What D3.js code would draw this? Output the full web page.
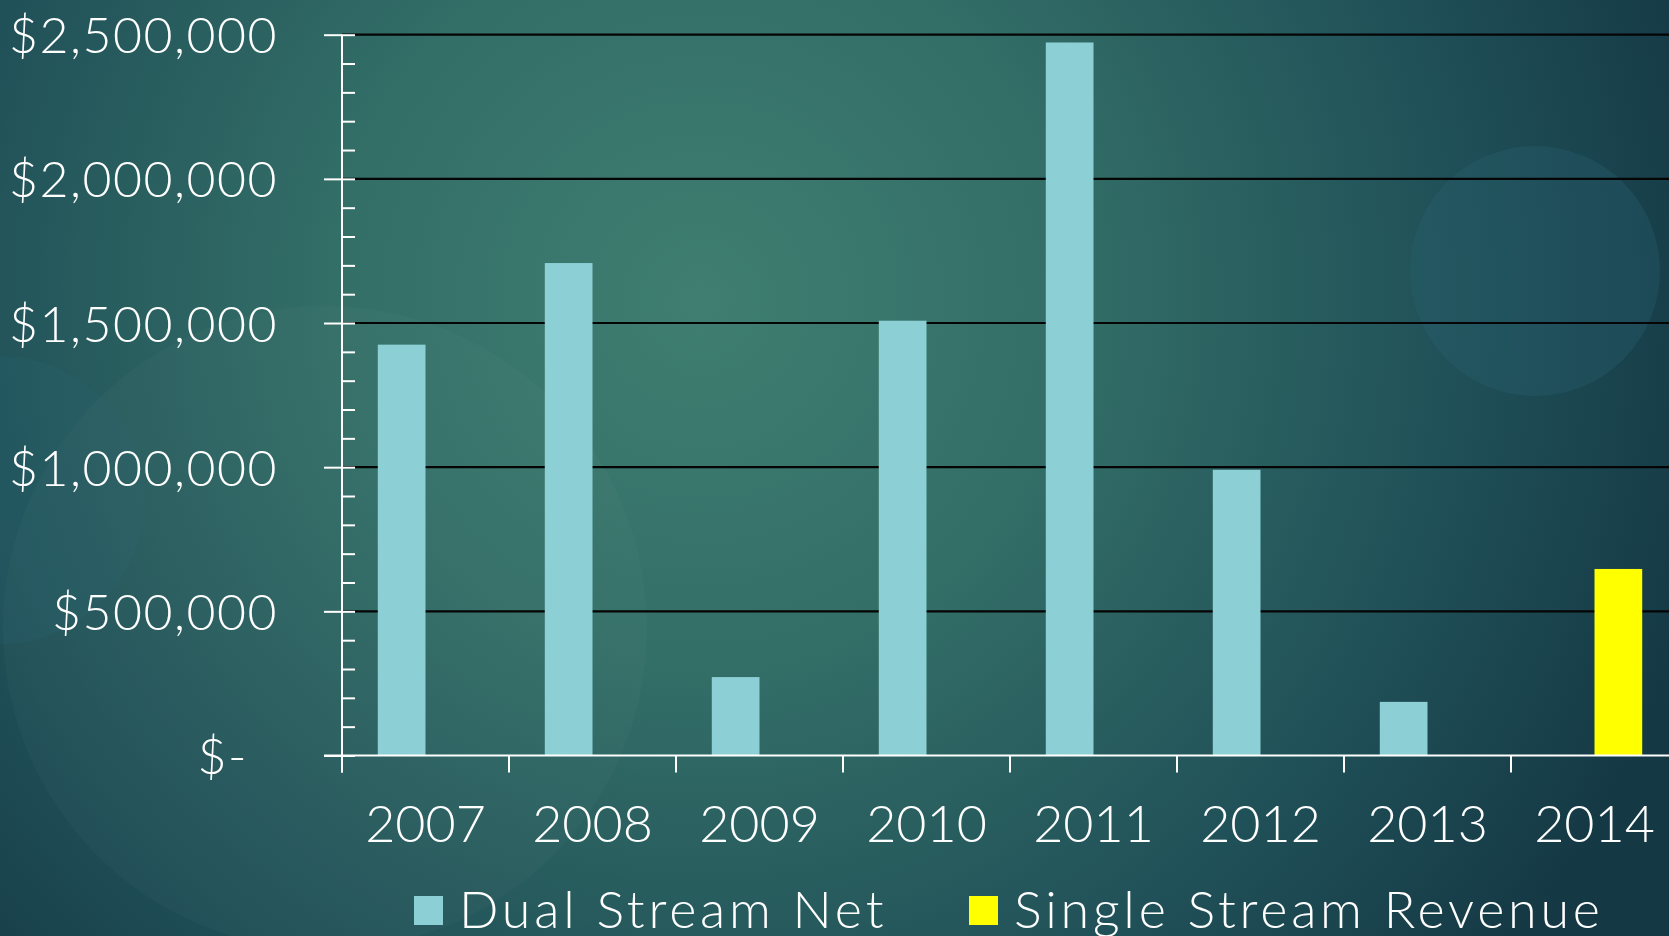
<!DOCTYPE html>
<html>
<head>
<meta charset="utf-8">
<script src="https://cdn.jsdelivr.net/npm/d3@7"></script>
<style>
  html, body { margin: 0; padding: 0; overflow: hidden; background: #1a4650; }
  text { font-family: "Lato", "Open Sans", sans-serif; font-weight: 300; fill: #ffffff; }
</style>
</head>
<body>
<script>
// values
var years = ["2007", "2008", "2009", "2010", "2011", "2012", "2013", "2014"];
var series = ["Dual Stream Net", "Single Stream Revenue"];
var dualStreamNet = [1425000, 1708000, 272000, 1508000, 2473000, 991000, 186000, null];
var singleStreamRevenue = [null, null, null, null, null, null, null, 647000];
var yMajorTicks = [0, 500000, 1000000, 1500000, 2000000, 2500000];
var seriesColors = ["#8cd0d6", "#ffff00"];

(function(w) {
    var c = {
        W: 1669,
        H: 936,
        left: 342,
        top: 34.7,
        bottom: 755.5,
        step: 167,
        fmt: d3.format("$,"),
        background: function(svg) {
            var defs = svg.append("defs");
            var rg = defs.append("radialGradient")
                .attr("id", "bg")
                .attr("gradientUnits", "userSpaceOnUse")
                .attr("cx", 700).attr("cy", 300).attr("r", 1050);
            rg.append("stop").attr("offset", 0).attr("stop-color", "#3f7e71");
            rg.append("stop").attr("offset", 0.35).attr("stop-color", "#336e67");
            rg.append("stop").attr("offset", 0.7).attr("stop-color", "#215259");
            rg.append("stop").attr("offset", 1).attr("stop-color", "#143844");
            svg.append("rect").attr("width", c.W).attr("height", c.H).attr("fill", "url(#bg)");
            // decorative circles
            svg.append("circle").attr("cx", 325).attr("cy", 628).attr("r", 322)
                .attr("fill", "#ffffff").attr("fill-opacity", 0.025);
            svg.append("circle").attr("cx", 0).attr("cy", 500).attr("r", 144)
                .attr("fill", "#2a6a78").attr("fill-opacity", 0.18);
            svg.append("circle").attr("cx", 1535).attr("cy", 271).attr("r", 125)
                .attr("fill", "#2a6474").attr("fill-opacity", 0.3);
        },
        main: function() {
            var svg = d3.select("body").append("svg")
                .attr("width", c.W).attr("height", c.H);
            c.background(svg);

            var x = d3.scaleBand()
                .domain(years)
                .range([c.left, c.left + c.step * years.length])
                .paddingInner(0.4286)
                .paddingOuter(0.2143);
            var xs = d3.scaleBand().domain(series).range([0, x.bandwidth()]);
            var y = d3.scaleLinear().domain([0, 2500000]).range([c.bottom, c.top]);

            // gridlines
            svg.append("g").selectAll("line")
                .data(yMajorTicks.slice(1))
                .enter().append("line")
                .attr("x1", c.left).attr("x2", c.W)
                .attr("y1", function(d) { return y(d); })
                .attr("y2", function(d) { return y(d); })
                .attr("stroke", "#050505").attr("stroke-width", 2.2);

            // bars
            var rows = years.map(function(yr, i) {
                return { year: yr, values: [dualStreamNet[i], singleStreamRevenue[i]] };
            });
            svg.append("g").selectAll("g")
                .data(rows)
                .enter().append("g")
                .attr("transform", function(d) { return "translate(" + x(d.year) + ",0)"; })
                .selectAll("rect")
                .data(function(d) {
                    return d.values.map(function(v, k) { return { s: series[k], v: v, k: k }; })
                        .filter(function(e) { return e.v != null; });
                })
                .enter().append("rect")
                .attr("x", function(d) { return xs(d.s); })
                .attr("width", xs.bandwidth())
                .attr("y", function(d) { return y(d.v); })
                .attr("height", function(d) { return y(0) - y(d.v); })
                .attr("fill", function(d) { return seriesColors[d.k]; });

            // y axis: major ticks (outside) with labels
            var yAxis = svg.append("g")
                .attr("transform", "translate(" + c.left + ",0)")
                .call(d3.axisLeft(y)
                    .tickValues(yMajorTicks)
                    .tickSize(18)
                    .tickPadding(46)
                    .tickFormat(function(d) { return d == 0 ? "$-" : c.fmt(d); }));
            yAxis.select(".domain").remove();
            yAxis.selectAll("line").attr("stroke", "#fff").attr("stroke-width", 2);
            yAxis.selectAll("text")
                .style("font-size", "50px")
                .style("letter-spacing", "1.5px")
                .attr("dy", "0.36em")
                .attr("fill", "#fff");
            yAxis.selectAll(".tick").filter(function(d) { return d == 0; })
                .select("text").attr("x", -94);

            // minor ticks (inside)
            var minor = d3.range(0, 2500001, 100000);
            var yMinor = svg.append("g")
                .attr("transform", "translate(" + c.left + ",0)")
                .call(d3.axisRight(y).tickValues(minor).tickSize(13).tickFormat(""));
            yMinor.select(".domain").remove();
            yMinor.selectAll("line").attr("stroke", "#fff").attr("stroke-width", 2);

            // axis lines
            svg.append("line")
                .attr("x1", c.left).attr("x2", c.left)
                .attr("y1", c.top).attr("y2", c.bottom + 17)
                .attr("stroke", "#fff").attr("stroke-width", 2);
            svg.append("line")
                .attr("x1", c.left - 18).attr("x2", c.W)
                .attr("y1", c.bottom).attr("y2", c.bottom)
                .attr("stroke", "#fff").attr("stroke-width", 2);

            // x ticks on category boundaries
            var gap = (x.step() - x.bandwidth()) / 2;
            svg.append("g").selectAll("line")
                .data(years)
                .enter().append("line")
                .attr("x1", function(d) { return x(d) - gap; })
                .attr("x2", function(d) { return x(d) - gap; })
                .attr("y1", c.bottom).attr("y2", c.bottom + 17)
                .attr("stroke", "#fff").attr("stroke-width", 2);

            // x labels
            svg.append("g").selectAll("text")
                .data(years)
                .enter().append("text")
                .attr("x", function(d) { return x(d) + x.bandwidth() / 2; })
                .attr("y", 842)
                .attr("text-anchor", "middle")
                .style("font-size", "52px")
                .text(function(d) { return d; });

            // legend
            var legend = [
                { name: series[0], color: seriesColors[0], x: 414 },
                { name: series[1], color: seriesColors[1], x: 969 }
            ];
            var lg = svg.append("g").selectAll("g")
                .data(legend)
                .enter().append("g")
                .attr("transform", function(d) { return "translate(" + d.x + ",896)"; });
            lg.append("rect").attr("width", 29).attr("height", 29)
                .attr("fill", function(d) { return d.color; });
            lg.append("text")
                .attr("x", 45).attr("y", 32)
                .style("font-size", "52px")
                .style("letter-spacing", "3.8px")
                .text(function(d) { return d.name; });
        }
    };
    c.main();
})(window);
</script>
</body>
</html>
